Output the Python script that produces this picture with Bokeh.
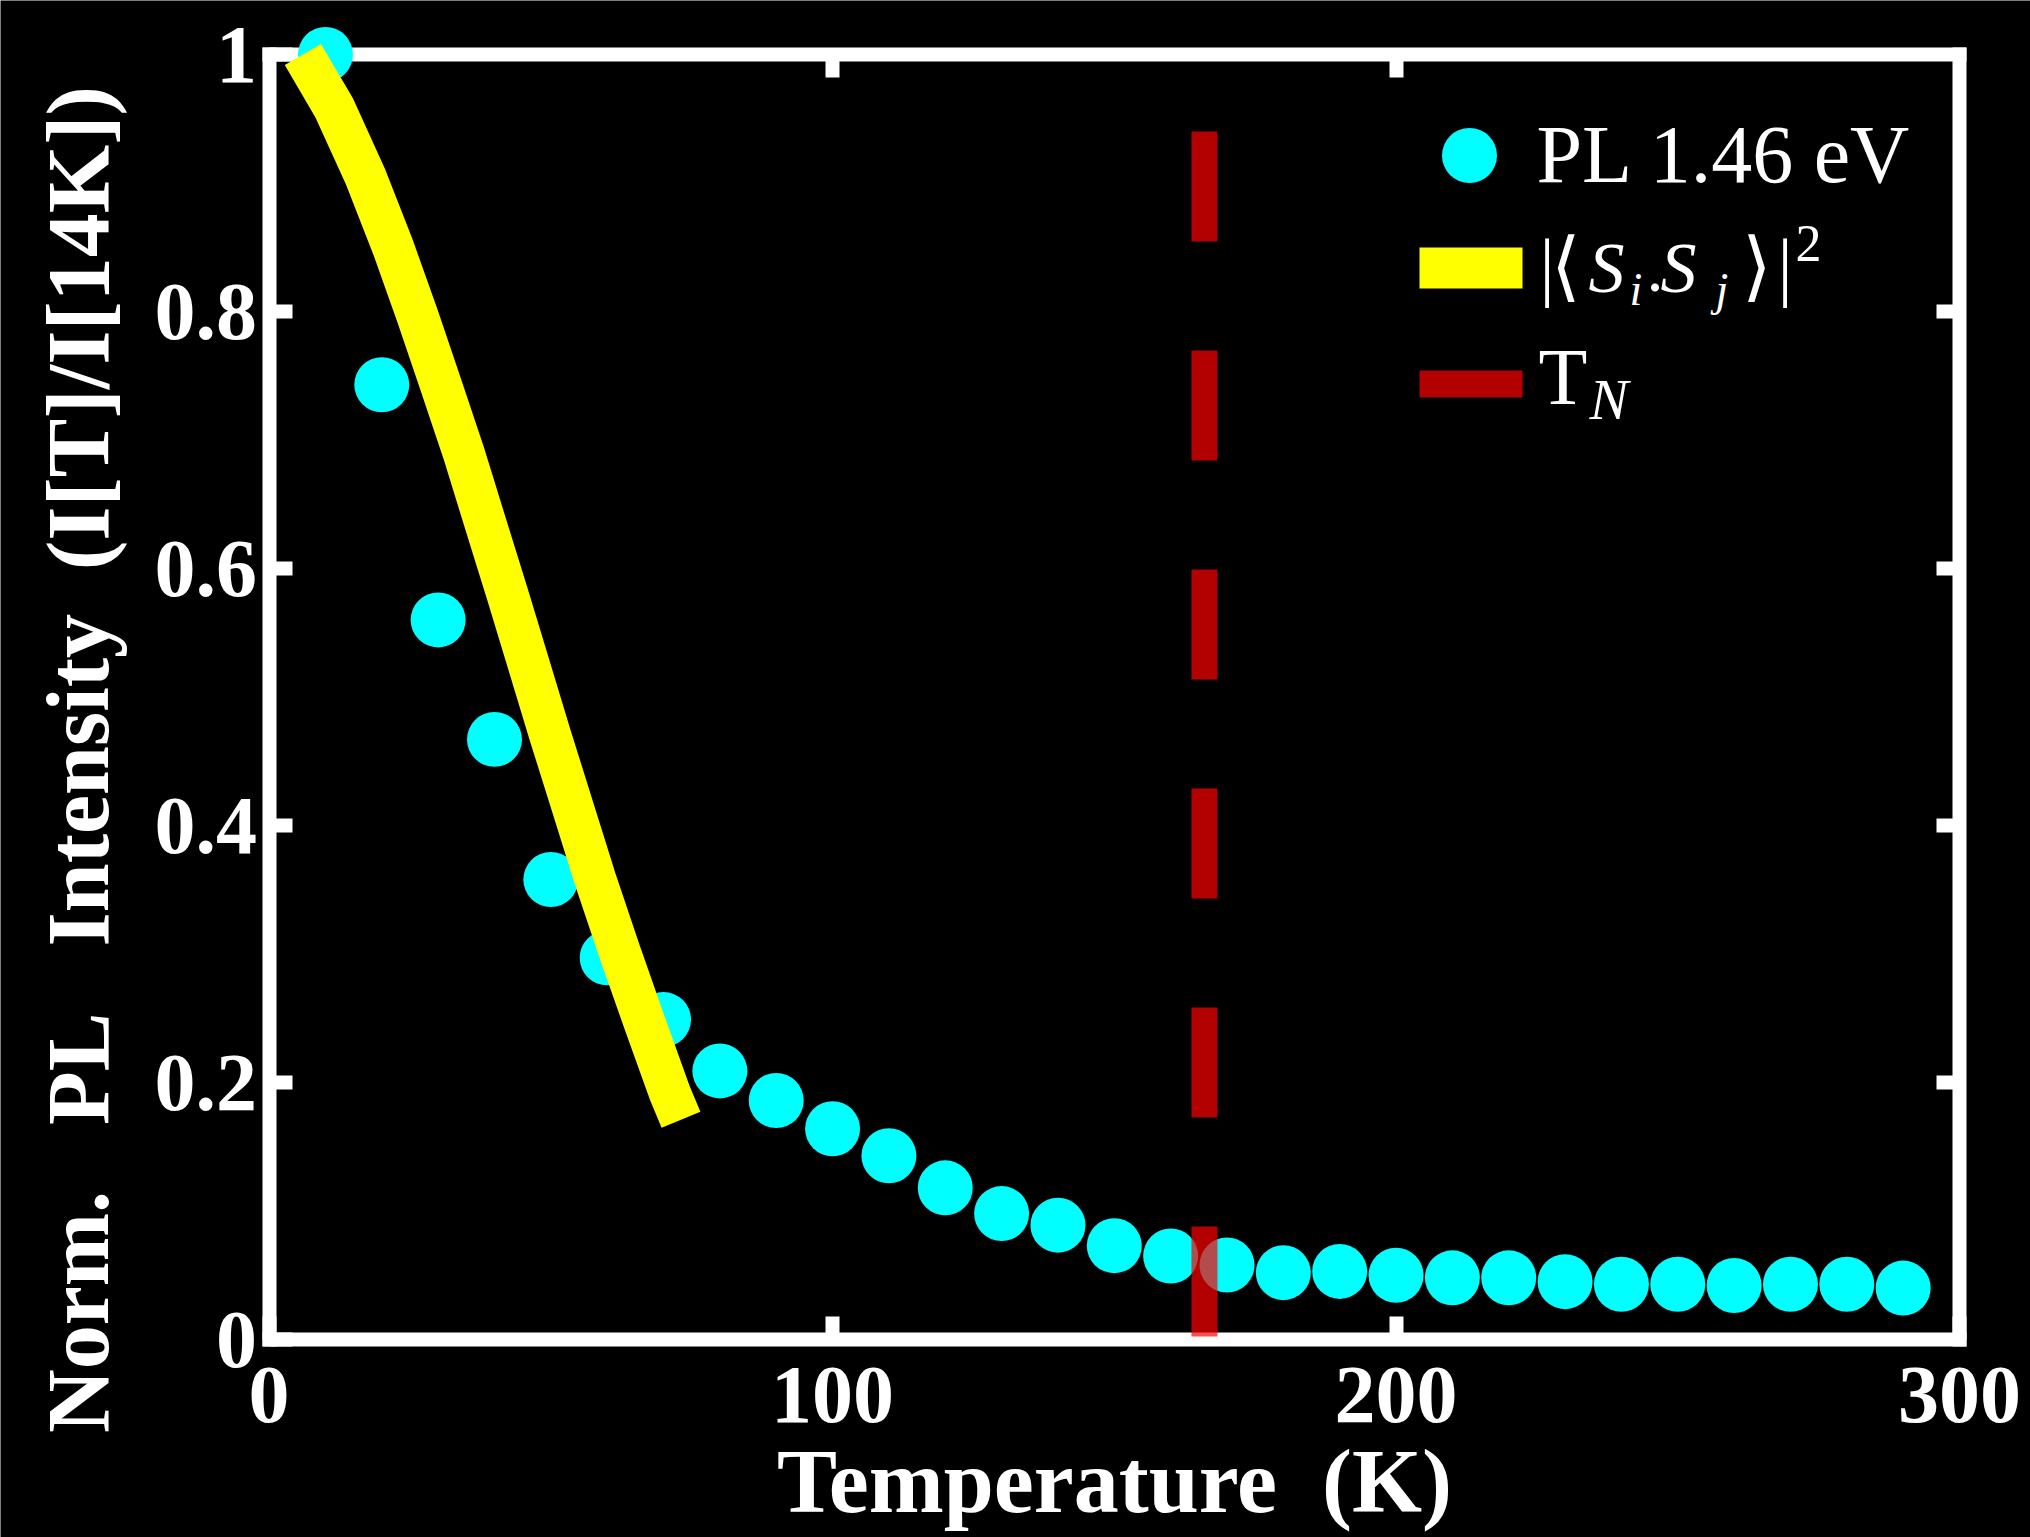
from math import pi
from bokeh.plotting import figure
from bokeh.models import LinearAxis, FixedTicker, Range1d, Label
from bokeh.embed import file_html
from bokeh.resources import INLINE

# ---------------- data ----------------
temperature_K = [10, 20, 30, 40, 50, 60, 70, 80, 90, 100, 110, 120, 130, 140, 150,
                 160, 170, 180, 190, 200, 210, 220, 230, 240, 250, 260, 270, 280, 290]
pl_norm = [1.000, 0.743, 0.560, 0.467, 0.358, 0.297, 0.249, 0.209, 0.186, 0.164,
           0.143, 0.118, 0.098, 0.089, 0.073, 0.065, 0.058, 0.052, 0.053, 0.050,
           0.048, 0.048, 0.045, 0.043, 0.043, 0.042, 0.043, 0.043, 0.040]

fit_T = [6.0, 11.6, 17.1, 22.0, 26.3, 30.4, 34.6, 38.4, 42.3, 46.1, 49.9,
         53.9, 57.9, 62.2, 66.6, 71.1, 73.1]
fit_corr = [1.000, 0.958, 0.905, 0.850, 0.797, 0.744, 0.689, 0.635, 0.580, 0.525,
            0.470, 0.414, 0.358, 0.302, 0.247, 0.192, 0.171]

T_N = 166.0
tn_line_top = 0.94

x_ticks = [0, 100, 200, 300]
x_tick_labels = ["0", "100", "200", "300"]
y_ticks = [0, 0.2, 0.4, 0.6, 0.8, 1]
y_tick_labels = ["0", "0.2", "0.4", "0.6", "0.8", "1"]
top_ticks = [100, 200]
right_ticks = [0.2, 0.4, 0.6, 0.8]

legend_pl = "PL 1.46 eV"
x_title = "Temperature\u00a0 (K)"
y_title = "Norm.\u00a0 \u00a0PL\u00a0 \u00a0Intensity\u00a0 (I[T]/I[14K])"

# ---------------- layout (page pixels) ----------------
W, H = 2030, 1537
X0PX, X300PX = 268.6, 1959.0     # px of x=0 and x=300
Y1PX, Y0PX = 54.0, 1339.0        # px of y=1 and y=0
SX = (X300PX - X0PX) / 300.0
SY = (Y0PX - Y1PX) / 1.0
BASE_SHIFT = 0.36                # empirical baseline correction (em)

x_start = (0 - X0PX) / SX
x_end = (W - X0PX) / SX
y_end = (Y0PX - 0) / SY
y_start = (Y0PX - H) / SY


def dx(px):
    return (px - X0PX) / SX


def dy(py):
    return (Y0PX - py) / SY


p = figure(width=W, height=H,
           x_range=Range1d(x_start, x_end), y_range=Range1d(y_start, y_end),
           x_axis_location=None, y_axis_location=None,
           toolbar_location=None, output_backend="svg",
           min_border_left=0, min_border_right=0,
           min_border_top=0, min_border_bottom=0,
           background_fill_color="black", border_fill_color="black")
p.outline_line_color = None
p.center = []

FONT = "Liberation Serif"


def style_axis(ax, ticks, labels):
    ax.ticker = FixedTicker(ticks=ticks)
    ax.major_label_overrides = {t: l for t, l in zip(ticks, labels)}
    ax.axis_line_color = "white"
    ax.axis_line_width = 14
    ax.axis_line_cap = "square"
    ax.major_tick_line_color = "white"
    ax.major_tick_line_width = 14
    ax.major_tick_in = 23
    ax.major_tick_out = 0
    ax.minor_tick_line_color = None
    ax.major_label_text_color = "white"
    ax.major_label_text_font = FONT
    ax.major_label_text_font_style = "bold"
    ax.major_label_text_font_size = "82px"
    ax.level = "underlay"


xb = LinearAxis(fixed_location=0, bounds=(0, 300))
style_axis(xb, x_ticks, x_tick_labels)
xb.major_label_standoff = 28
xb.axis_label = x_title
xb.axis_label_text_color = "white"
xb.axis_label_text_font = FONT
xb.axis_label_text_font_style = "bold"
xb.axis_label_text_font_size = "90px"
xb.axis_label_standoff = 7
p.add_layout(xb, "below")

xt = LinearAxis(fixed_location=1, bounds=(0, 300))
style_axis(xt, top_ticks, ["" for _ in top_ticks])
p.add_layout(xt, "above")

yl = LinearAxis(fixed_location=0, bounds=(0, 1))
style_axis(yl, y_ticks, y_tick_labels)
yl.major_label_standoff = 12
p.add_layout(yl, "left")

yr = LinearAxis(fixed_location=300, bounds=(0, 1))
style_axis(yr, right_ticks, ["" for _ in right_ticks])
p.add_layout(yr, "right")

# ---------------- glyphs ----------------
p.scatter(temperature_K, pl_norm, size=55, fill_color="#00FFFF", line_color=None)
p.line(fit_T, fit_corr, line_width=42, line_color="#FFFF00",
       line_cap="butt", line_join="round")
p.segment(x0=[T_N], y0=[tn_line_top], x1=[T_N], y1=[0],
          line_width=26, line_color="#FF0000", line_alpha=0.7, line_dash="110 109")

# ---------------- y title ----------------
YT_SIZE = 88
p.add_layout(Label(x=dx(110 - BASE_SHIFT * YT_SIZE), y=dy(759), text=y_title, angle=pi / 2,
                   text_align="center", text_baseline="alphabetic",
                   text_color="white", text_font=FONT, text_font_style="bold",
                   text_font_size=f"{YT_SIZE}px"))

# ---------------- legend ----------------
p.scatter([dx(1469)], [dy(155)], size=55, fill_color="#00FFFF", line_color=None)
p.segment(x0=[dx(1419)], y0=[dy(267.5)], x1=[dx(1522)], y1=[dy(267.5)],
          line_width=41, line_color="#FFFF00", line_cap="butt")
p.segment(x0=[dx(1419)], y0=[dy(383.5)], x1=[dx(1522)], y1=[dy(383.5)],
          line_width=27, line_color="#FF0000", line_alpha=0.7, line_cap="butt")


def lab(text, px, py, size, style="normal", font=FONT):
    p.add_layout(Label(x=dx(px), y=dy(py - BASE_SHIFT * size), text=text,
                       text_align="left", text_baseline="alphabetic",
                       text_color="white", text_font=font, text_font_style=style,
                       text_font_size=f"{size}px"))


lab(legend_pl, 1536, 184, 82)
# |<S_i.S_j>|^2
lab("|", 1539, 293, 76)
lab("\u27e8", 1550, 293, 76)
lab("S", 1588, 293, 72, "italic")
lab("i", 1629, 306, 46, "italic")
lab(".", 1646, 293, 68)
lab("S", 1660, 293, 72, "italic")
lab("j", 1715, 306, 46, "italic")
lab("\u27e9", 1741, 293, 76)
lab("|", 1777, 293, 76)
lab("2", 1795, 262, 52)
# T_N
lab("T", 1538, 405, 80)
lab("N", 1589, 420, 58, "italic")

html = file_html(p, INLINE)
html = html.replace("<body>", '<body style="background-color:#000000;">', 1)
open("out.html", "w").write(html)
